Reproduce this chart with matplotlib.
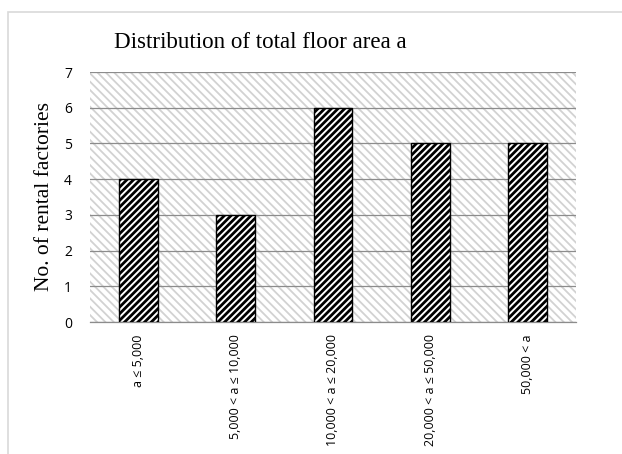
import matplotlib
matplotlib.use("Agg")
import matplotlib.pyplot as plt
from matplotlib.patches import Rectangle

categories = ["a ≤ 5,000", "5,000 < a ≤ 10,000", "10,000 < a ≤ 20,000",
              "20,000 < a ≤ 50,000", "50,000 < a"]
counts = [4, 3, 6, 5, 5]
y_ticks = [0, 1, 2, 3, 4, 5, 6, 7]

W, H = 622, 454
fig = plt.figure(figsize=(W / 100, H / 100), dpi=100)
fig.patch.set_facecolor("white")

# outer chart frame
fig.patches.append(Rectangle((8 / W, -0.05), 1.2, 1 - 12 / H + 0.05,
                             transform=fig.transFigure, facecolor="none",
                             edgecolor="#d9d9d9", linewidth=1.2))

ax = fig.add_axes([90 / W, 1 - 322 / H, (576 - 90) / W, (322 - 72) / H])
ax.set_facecolor("white")

# hatched plot-area background
with plt.rc_context({"hatch.linewidth": 1.3}):
    bg = Rectangle((0, 0), 1, 1, transform=ax.transAxes, facecolor="white",
                   edgecolor="#d2d2d2", hatch="\\\\\\\\", linewidth=0, zorder=0)
ax.add_patch(bg)

ax.set_axisbelow(True)
ax.yaxis.grid(True, color="#8c8c8c", linewidth=0.9, zorder=1)

x = list(range(len(categories)))
with plt.rc_context({"hatch.linewidth": 2.0}):
    bars = ax.bar(x, counts, width=0.4, facecolor="white", edgecolor="black",
                  hatch="/////", linewidth=1.0, zorder=3)

ax.set_xlim(-0.5, len(categories) - 0.5)
ax.set_ylim(0, 7)
ax.set_yticks(y_ticks)
ax.set_xticks(x)
ax.set_xticklabels(categories, rotation=90, va="top", ha="center",
                   fontsize=9, family="Open Sans")
ax.set_yticklabels([str(v) for v in y_ticks], fontsize=10, family="Open Sans")
ax.tick_params(axis="both", length=0)
ax.tick_params(axis="y", pad=13)
ax.tick_params(axis="x", pad=9)

for side in ["top", "right", "left"]:
    ax.spines[side].set_visible(False)
ax.spines["bottom"].set_color("#8c8c8c")
ax.spines["bottom"].set_linewidth(0.9)

fig.text(45 / W, 1 - 197 / H, "No. of rental factories", rotation=90,
         ha="center", va="center", fontsize=15.5, family="Liberation Serif")
fig.text(260 / W, 1 - 43 / H, "Distribution of total floor area a",
         ha="center", va="center", fontsize=16.6, family="Liberation Serif")

fig.savefig("out.png", dpi=100)
